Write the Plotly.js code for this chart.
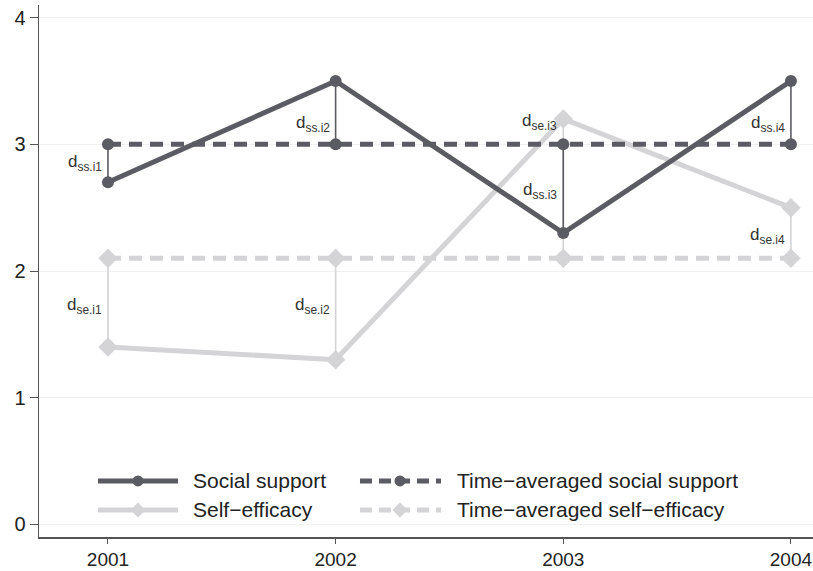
<!DOCTYPE html>
<html><head><meta charset="utf-8">
<script src="https://cdn.plot.ly/plotly-3.0.1.min.js"></script>
<style>html,body{margin:0;padding:0;background:#fff}</style>
</head><body><div id="chart" style="width:813px;height:571px"></div>
<script>
const years = [2001, 2002, 2003, 2004];
const socialSupport = [2.7, 3.5, 2.3, 3.5];
const socialSupportMean = [3.0, 3.0, 3.0, 3.0];
const selfEfficacy = [1.4, 1.3, 3.2, 2.5];
const selfEfficacyMean = [2.1, 2.1, 2.1, 2.1];
const ssLabels = ['d<sub>ss.i1</sub>', 'd<sub>ss.i2</sub>', 'd<sub>ss.i3</sub>', 'd<sub>ss.i4</sub>'];
const seLabels = ['d<sub>se.i1</sub>', 'd<sub>se.i2</sub>', 'd<sub>se.i3</sub>', 'd<sub>se.i4</sub>'];
const ssLabelY = [2.85, 3.16, 2.63, 3.16];
const seLabelY = [1.72, 1.72, 3.18, 2.28];
const legendNames = ['Social support', 'Time\u2212averaged social support', 'Self\u2212efficacy', 'Time\u2212averaged self\u2212efficacy'];

const dark = '#5b5b63';
const light = '#d4d4d6';
const dashPat = '13px,8px';
const traces = [];
years.forEach((yr, i) => {
  traces.push({x: [yr, yr], y: [selfEfficacy[i], selfEfficacyMean[i]], mode: 'lines',
    line: {color: light, width: 1.6}, showlegend: false, hoverinfo: 'skip'});
});
traces.push({x: years, y: selfEfficacy, name: legendNames[2], mode: 'lines+markers',
  line: {color: light, width: 5}, marker: {symbol: 'diamond', size: 15, color: light}});
traces.push({x: years, y: selfEfficacyMean, name: legendNames[3], mode: 'lines+markers',
  line: {color: light, width: 5, dash: dashPat}, marker: {symbol: 'diamond', size: 15, color: light}});
years.forEach((yr, i) => {
  traces.push({x: [yr, yr], y: [socialSupport[i], socialSupportMean[i]], mode: 'lines',
    line: {color: dark, width: 1.6}, showlegend: false, hoverinfo: 'skip'});
});
traces.push({x: years, y: socialSupport, name: legendNames[0], mode: 'lines+markers',
  line: {color: dark, width: 5}, marker: {symbol: 'circle', size: 12, color: dark}});
traces.push({x: years, y: socialSupportMean, name: legendNames[1], mode: 'lines+markers',
  line: {color: dark, width: 5, dash: dashPat}, marker: {symbol: 'circle', size: 12, color: dark}});

const annotations = [];
years.forEach((yr, i) => {
  annotations.push({x: yr, y: ssLabelY[i], text: ssLabels[i], showarrow: false, xanchor: 'right', xshift: -4,
    font: {size: 17, color: '#333'}});
  annotations.push({x: yr, y: seLabelY[i], text: seLabels[i], showarrow: false, xanchor: 'right', xshift: -4,
    font: {size: 17, color: '#333'}});
});

// manual legend (layout styling, paper coordinates)
const legRows = [0.1053, 0.0508];
const legCols = [{x0: 0.0762, x1: 0.1796, xm: 0.1279, xt: 0.1964}, {x0: 0.4147, x1: 0.5194, xm: 0.4664, xt: 0.5375}];
const legItems = [
  {row: 0, col: 0, color: dark, dash: 'solid', sym: 'circle'},
  {row: 0, col: 1, color: dark, dash: '12px,7px', sym: 'circle'},
  {row: 1, col: 0, color: light, dash: 'solid', sym: 'diamond'},
  {row: 1, col: 1, color: light, dash: '12px,7px', sym: 'diamond'}
];
const shapes = [];
legItems.forEach((it, k) => {
  const c = legCols[it.col], y = legRows[it.row];
  shapes.push({type: 'line', xref: 'paper', yref: 'paper', x0: c.x0, x1: c.x1, y0: y, y1: y,
    line: {color: it.color, width: 5, dash: it.dash}});
  if (it.sym === 'circle') {
    shapes.push({type: 'circle', xref: 'paper', yref: 'paper', xsizemode: 'pixel', ysizemode: 'pixel',
      xanchor: c.xm, yanchor: y, x0: -5.5, x1: 5.5, y0: -5.5, y1: 5.5,
      fillcolor: it.color, line: {width: 0}});
  } else {
    shapes.push({type: 'path', xref: 'paper', yref: 'paper', xsizemode: 'pixel', ysizemode: 'pixel',
      xanchor: c.xm, yanchor: y, path: 'M -7.5 0 L 0 7.5 L 7.5 0 L 0 -7.5 Z',
      fillcolor: it.color, line: {width: 0}});
  }
  annotations.push({xref: 'paper', yref: 'paper', x: c.xt, y: y, text: legendNames[k], showarrow: false,
    xanchor: 'left', yanchor: 'middle', font: {size: 21, color: '#222'}});
});

const layout = {
  width: 813, height: 571,
  margin: {l: 39, r: 0, t: 5, b: 34},
  paper_bgcolor: '#fff', plot_bgcolor: '#fff',
  font: {family: 'Liberation Sans, Arial, sans-serif', color: '#222'},
  showlegend: false,
  xaxis: {range: [2000.697, 2004.097], tickvals: years, ticktext: years.map(String),
    showgrid: false, zeroline: false, showline: true, linecolor: '#555', linewidth: 1.5,
    ticks: 'outside', ticklen: 5, tickcolor: '#555', tickfont: {size: 19, color: '#222'},
    ticklabeloverflow: 'allow'},
  yaxis: {range: [-0.1, 4.1], tickvals: [0, 1, 2, 3, 4], showgrid: true, gridcolor: '#f1f1f1', gridwidth: 1,
    zeroline: false, showline: true, linecolor: '#555', linewidth: 1.5,
    ticks: 'outside', ticklen: 8, tickcolor: '#555', tickfont: {size: 20, color: '#222'},
    ticklabeloverflow: 'allow'},
  annotations: annotations,
  shapes: shapes
};
Plotly.newPlot('chart', traces, layout, {displayModeBar: false, staticPlot: true});
</script></body></html>
